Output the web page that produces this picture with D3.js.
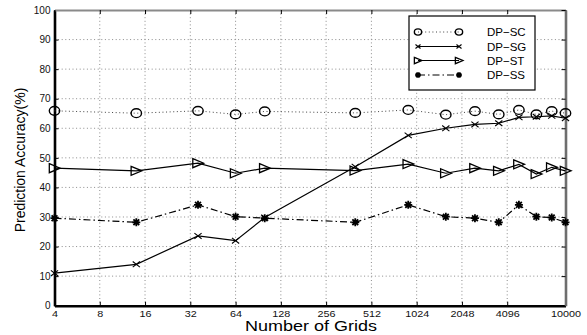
<!DOCTYPE html>
<html>
<head>
<meta charset="utf-8">
<script src="https://cdn.jsdelivr.net/npm/d3@7"></script>
<style>
  html, body { margin: 0; padding: 0; background: #fff; }
  svg { display: block; font-family: "Liberation Sans", Arial, Helvetica, sans-serif; }
</style>
</head>
<body>
<svg id="chart" width="587" height="335"></svg>
<script>
// Number of grids used for each run (log2 x axis)
const grids = [4, 14, 36, 64, 100, 400, 900, 1600, 2500, 3600, 4900, 6400, 8100, 10000];

// Prediction accuracy (%) for each method
const dpSC = [65.9, 65.1, 65.9, 64.7, 65.7, 65.2, 66.2, 64.6, 65.8, 64.7, 66.2, 64.7, 65.8, 65.1];
const dpSG = [11.0, 14.0, 23.6, 22.0, 29.8, 47.0, 57.6, 60.0, 61.3, 61.7, 63.7, 63.9, 64.2, 63.4];
const dpST = [46.5, 45.6, 48.2, 44.8, 46.5, 45.7, 47.9, 44.8, 46.5, 45.6, 47.8, 44.5, 46.8, 45.6];
const dpSS = [29.6, 28.2, 34.1, 30.1, 29.6, 28.2, 34.1, 30.1, 29.6, 28.2, 34.1, 30.1, 29.8, 28.2];

const seriesNames = ["DP\u2212SC", "DP\u2212SG", "DP\u2212ST", "DP\u2212SS"];

// Axis ticks
const xTicks = [4, 8, 16, 32, 64, 128, 256, 512, 1024, 2048, 4096, 10000];
const yTicks = [0, 10, 20, 30, 40, 50, 60, 70, 80, 90, 100];

const xLabel = "Number of Grids";
const yLabel = "Prediction Accuracy(%)";

const svg = d3.select("#chart");
const plotLeft = 54.5, plotRight = 565.5, plotTop = 10, plotBottom = 305.7;

const x = d3.scaleLog().base(2).domain([4, 10000]).range([plotLeft, plotRight]);
const y = d3.scaleLinear().domain([0, 100]).range([plotBottom, plotTop]);

// dotted grid
const grid = svg.append("g").attr("stroke", "#8c8c8c").attr("stroke-width", 1)
  .attr("stroke-dasharray", "1,2.6").attr("fill", "none");
grid.selectAll("line.gx").data(xTicks.slice(1, -1)).join("line").attr("class", "gx")
  .attr("x1", d => x(d)).attr("x2", d => x(d)).attr("y1", plotTop).attr("y2", plotBottom);
grid.selectAll("line.gy").data(yTicks.slice(1, -1)).join("line").attr("class", "gy")
  .attr("x1", plotLeft).attr("x2", plotRight).attr("y1", d => y(d)).attr("y2", d => y(d));

// axes
const fmt = d => String(d);
const gB = svg.append("g").attr("transform", `translate(0,${plotBottom})`)
  .call(d3.axisBottom(x).tickValues(xTicks).tickFormat(fmt).tickSizeInner(-4).tickSizeOuter(0).tickPadding(4.5));
const gL = svg.append("g").attr("transform", `translate(${plotLeft},0)`)
  .call(d3.axisLeft(y).tickValues(yTicks).tickFormat(fmt).tickSizeInner(-4).tickSizeOuter(0).tickPadding(4));
const gT = svg.append("g").attr("transform", `translate(0,${plotTop})`)
  .call(d3.axisTop(x).tickValues(xTicks).tickFormat("").tickSizeInner(-4).tickSizeOuter(0));
const gR = svg.append("g").attr("transform", `translate(${plotRight},0)`)
  .call(d3.axisRight(y).tickValues(yTicks).tickFormat("").tickSizeInner(-4).tickSizeOuter(0));

[gB, gL, gT, gR].forEach(g => {
  g.selectAll(".tick line").attr("stroke", "#000").attr("stroke-width", 1);
  g.selectAll(".tick text").attr("fill", "#111").style("font-size", "10px");
});
gB.selectAll(".tick text").style("font-size", "9px").each(function () {
  const w = this.getComputedTextLength();
  d3.select(this).attr("textLength", w * 1.2).attr("lengthAdjust", "spacingAndGlyphs");
});
gB.select(".domain").attr("stroke", "#000").attr("stroke-width", 2.6);
gL.select(".domain").attr("stroke", "#000").attr("stroke-width", 2.6);
gT.select(".domain").attr("stroke", "#8a8a8a").attr("stroke-width", 2);
gR.select(".domain").attr("stroke", "#6e6e6e").attr("stroke-width", 2.6);

// axis titles
svg.append("text").attr("x", 311).attr("y", 331).attr("text-anchor", "middle")
  .style("font-size", "14px").attr("textLength", 132).attr("lengthAdjust", "spacingAndGlyphs")
  .text(xLabel);
svg.append("text").attr("transform", "translate(25,160) rotate(-90)").attr("text-anchor", "middle")
  .style("font-size", "14px").text(yLabel);

// marker shapes
function drawMarker(g, kind, s) {
  g.attr("fill", "none").attr("stroke", "#000");
  if (kind === "circle") {
    g.append("ellipse").attr("rx", 5.2 * s).attr("ry", 4.4 * s).attr("stroke-width", 1.4);
  } else if (kind === "x") {
    g.append("path").attr("stroke-width", 1.1)
      .attr("d", `M${-3.6 * s},${-2.8 * s}L${3.6 * s},${2.8 * s}M${-3.6 * s},${2.8 * s}L${3.6 * s},${-2.8 * s}`);
  } else if (kind === "tri") {
    g.append("path").attr("stroke-width", 1.3)
      .attr("d", `M${-5.2 * s},${-4.5 * s}L${5.6 * s},0L${-5.2 * s},${4.5 * s}Z`);
  } else if (kind === "star") {
    const r = 4 * s, d = 2.9 * s;
    g.append("path").attr("stroke-width", 1.8)
      .attr("d", `M${-r},0L${r},0M0,${-r}L0,${r}M${-d},${-d}L${d},${d}M${-d},${d}L${d},${-d}`);
  }
}

const series = [
  { name: seriesNames[0], values: dpSC, marker: "circle", dash: "1,2.6", lineColor: "#444", width: 1 },
  { name: seriesNames[1], values: dpSG, marker: "x", dash: null, lineColor: "#000", width: 1.2 },
  { name: seriesNames[2], values: dpST, marker: "tri", dash: null, lineColor: "#000", width: 1.2 },
  { name: seriesNames[3], values: dpSS, marker: "star", dash: "7,3,1.5,3", lineColor: "#000", width: 1.2 }
];

const line = d3.line().x(d => x(d[0])).y(d => y(d[1]));

series.forEach(s => {
  const pts = grids.map((g, i) => [g, s.values[i]]);
  svg.append("path").datum(pts).attr("d", line).attr("fill", "none")
    .attr("stroke", s.lineColor).attr("stroke-width", s.width)
    .attr("stroke-dasharray", s.dash);
  svg.append("g").selectAll("g").data(pts).join("g")
    .attr("transform", d => `translate(${x(d[0])},${y(d[1])})`)
    .each(function () { drawMarker(d3.select(this), s.marker, 1); });
});

// legend
const legend = svg.append("g");
legend.append("rect").attr("x", 409).attr("y", 16).attr("width", 126).attr("height", 74)
  .attr("fill", "#fff").attr("stroke", "#000").attr("stroke-width", 1.2);
const rowY = [32, 46.5, 60.5, 75];
series.forEach((s, i) => {
  const ry = rowY[i];
  legend.append("line").attr("x1", 418).attr("x2", 459).attr("y1", ry).attr("y2", ry)
    .attr("stroke", s.lineColor).attr("stroke-width", s.width).attr("stroke-dasharray", s.dash);
  [418, 459].forEach(mx => {
    drawMarker(legend.append("g").attr("transform", `translate(${mx},${ry})`), s.marker, 0.7);
  });
  legend.append("text").attr("x", 487).attr("y", ry).attr("dy", "0.36em")
    .style("font-size", "11.5px").text(s.name);
});
</script>
</body>
</html>
